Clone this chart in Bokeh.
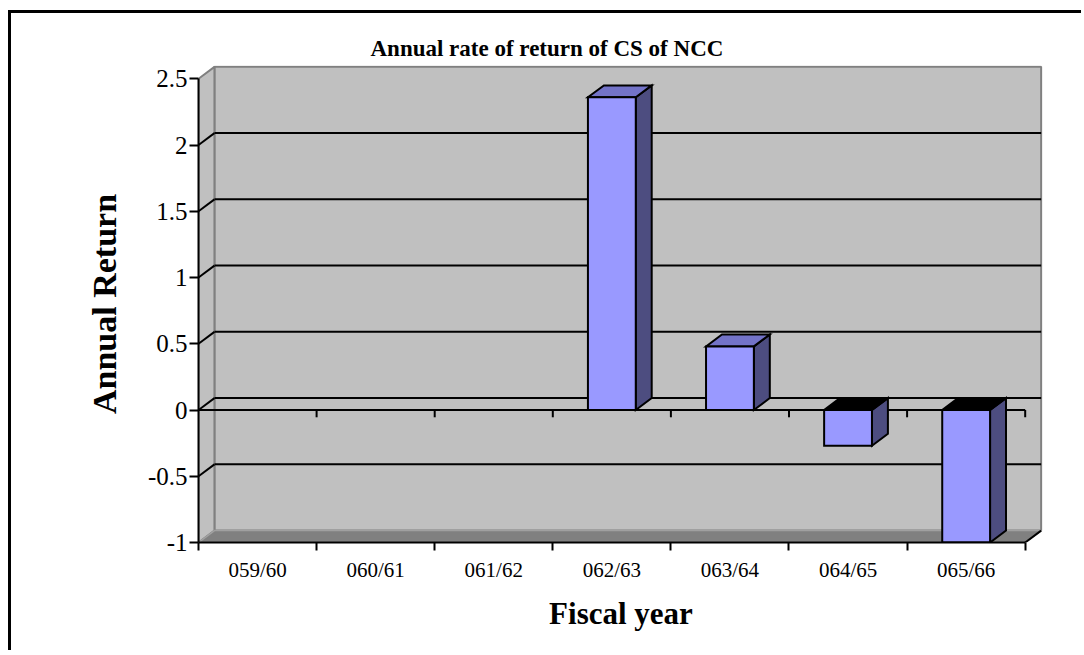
from bokeh.plotting import figure
from bokeh.layouts import column
from bokeh.models import Range1d, FixedTicker
from bokeh.embed import file_html
from bokeh.resources import INLINE

# ---- data ----
years = ["059/60", "060/61", "061/62", "062/63", "063/64", "064/65", "065/66"]
annual_return = [None, None, None, 2.36, 0.48, -0.27, -1.0]
y_ticks = [-1, -0.5, 0, 0.5, 1, 1.5, 2, 2.5]
y_tick_labels = ["-1", "-0.5", "0", "0.5", "1", "1.5", "2", "2.5"]
grid_values = [-0.5, 0, 0.5, 1, 1.5, 2]

# ---- 3-D box geometry (data units) ----
Y_MIN, Y_MAX = -1.0, 2.5
N = len(years)
DX, DY = 0.135, 0.09          # depth offset of the back wall
BAR_W = 0.405                 # bar width as a share of one category

# ---- page layout (pixels) ----
OFF_X, OFF_Y = 11, 13                 # canvas origin on the page
W, H = 1073, 640
FL, FR, FT, FB = 198, 1043, 65, 542   # plot frame edges on the page

FONT = "Liberation Serif"
WALL = "#C0C0C0"
EDGE = "#808080"
FRONT = "#9999FF"
SIDE = "#4D4D80"
TOP = "#7373C8"

p = figure(width=W, height=H,
           x_range=Range1d(0, N + DX + 0.02),
           y_range=Range1d(Y_MIN, Y_MAX + DY + 0.01),
           output_backend="svg", toolbar_location=None,
           min_border_left=FL - OFF_X, min_border_right=OFF_X + W - FR,
           min_border_top=FT - OFF_Y, min_border_bottom=OFF_Y + H - FB)
p.outline_line_color = None
p.xgrid.visible = False
p.ygrid.visible = False
p.background_fill_color = "white"

# title
p.title.text = "Annual rate of return of CS of NCC"
p.title.align = "left"
p.title.offset = 172
p.title.standoff = 10
p.title.text_color = "black"
p.title.text_font = FONT
p.title.text_font_size = "23px"
p.title.text_font_style = "bold"

# back wall, side wall and floor
p.quad(left=[DX], right=[N + DX], bottom=[Y_MIN + DY], top=[Y_MAX + DY],
       fill_color=WALL, line_color=EDGE, line_width=2)
p.patch([0, DX, DX, 0], [Y_MIN, Y_MIN + DY, Y_MAX + DY, Y_MAX],
        fill_color=WALL, line_color=EDGE, line_width=2)
p.patch([0, N, N + DX, DX], [Y_MIN, Y_MIN, Y_MIN + DY, Y_MIN + DY],
        fill_color=EDGE, line_color="#A0A0A0", line_width=1.5)
p.segment(x0=[N], y0=[Y_MIN], x1=[N + DX], y1=[Y_MIN + DY],
          line_color="black", line_width=2)

# gridlines on the back wall plus their diagonals on the side wall
p.segment(x0=[DX] * len(grid_values), y0=[g + DY for g in grid_values],
          x1=[N + DX] * len(grid_values), y1=[g + DY for g in grid_values],
          line_color="black", line_width=2)
p.segment(x0=[0] * len(grid_values), y0=grid_values,
          x1=[DX] * len(grid_values), y1=[g + DY for g in grid_values],
          line_color="black", line_width=2)

# category axis crossing at zero, on the front plane
p.segment(x0=[0], y0=[0], x1=[N], y1=[0], line_color="black", line_width=2)
p.segment(x0=list(range(1, N + 1)), y0=[0] * N,
          x1=list(range(1, N + 1)), y1=[-0.055] * N,
          line_color="black", line_width=2)

# 3-D columns
idx = [i for i, v in enumerate(annual_return) if v is not None]
vals = [annual_return[i] for i in idx]
left = [i + 0.5 - BAR_W / 2 for i in idx]
right = [i + 0.5 + BAR_W / 2 for i in idx]
lo = [min(0, max(v, Y_MIN)) for v in vals]
hi = [max(0, v) for v in vals]

side_xs = [[r, r + DX, r + DX, r] for r in right]
side_ys = [[b, b + DY, t + DY, t] for b, t in zip(lo, hi)]
top_xs = [[l, r, r + DX, l + DX] for l, r in zip(left, right)]
top_ys = [[t, t, t + DY, t + DY] for t in hi]
top_colors = [TOP if v > 0 else "black" for v in vals]

p.patches(side_xs, side_ys, fill_color=SIDE, line_color="black",
          line_width=2, line_join="miter")
p.patches(top_xs, top_ys, fill_color=top_colors, line_color="black",
          line_width=2, line_join="miter")
p.quad(left=left, right=right, bottom=lo, top=hi, fill_color=FRONT,
       line_color="black", line_width=2, line_join="miter")

# x axis: labels centred in categories, ticks on category boundaries
xa = p.xaxis[0]
xa.ticker = FixedTicker(ticks=[i + 0.5 for i in range(N)],
                        minor_ticks=list(range(N + 1)))
xa.major_label_overrides = {i + 0.5: y for i, y in enumerate(years)}
xa.bounds = (0, N)
xa.major_tick_line_color = None
xa.major_tick_out = 8
xa.major_tick_in = 0
xa.minor_tick_line_color = "black"
xa.minor_tick_line_width = 2
xa.minor_tick_out = 8
xa.minor_tick_in = 0
xa.axis_line_width = 2
xa.major_label_standoff = 7
xa.major_label_text_color = "black"
xa.major_label_text_font = FONT
xa.major_label_text_font_size = "21px"
xa.axis_label = "Fiscal year"
xa.axis_label_text_color = "black"
xa.axis_label_text_font = FONT
xa.axis_label_text_font_size = "31px"
xa.axis_label_text_font_style = "bold"
xa.axis_label_standoff = 11

# y axis
ya = p.yaxis[0]
ya.ticker = FixedTicker(ticks=y_ticks)
ya.major_label_overrides = {float(t): s for t, s in zip(y_ticks, y_tick_labels)}
ya.bounds = (Y_MIN, Y_MAX)
ya.axis_line_width = 2
ya.major_tick_line_width = 2
ya.major_tick_out = 9
ya.major_tick_in = 0
ya.minor_tick_line_color = None
ya.major_label_standoff = 2
ya.major_label_text_color = "black"
ya.major_label_text_font = FONT
ya.major_label_text_font_size = "25px"
ya.axis_label = "Annual Return"
ya.axis_label_text_color = "black"
ya.axis_label_text_font = FONT
ya.axis_label_text_font_size = "34px"
ya.axis_label_text_font_style = "bold"
ya.axis_label_standoff = 22

# page: black rule along the left and top of the chart area
page = column(p, width=W, height=H,
              styles={"margin-left": f"{OFF_X}px", "margin-top": f"{OFF_Y}px",
                      "box-shadow": "-3px -3px 0px 0px black"})

open("out.html", "w").write(file_html(page, INLINE))
